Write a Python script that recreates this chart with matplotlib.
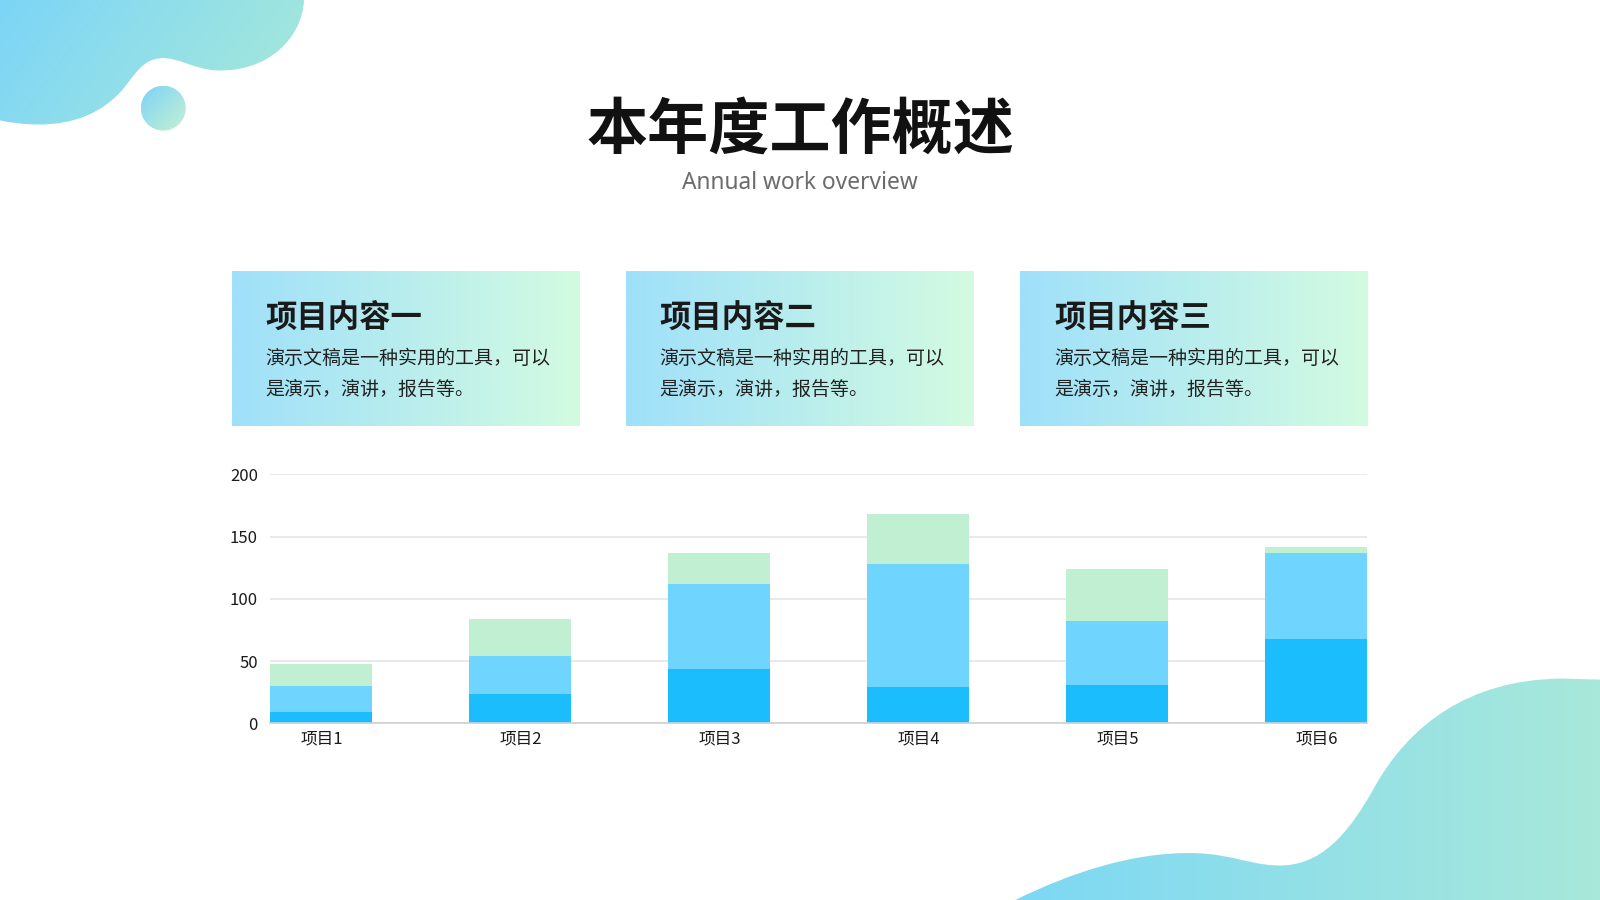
import matplotlib
matplotlib.use("Agg")
import matplotlib.pyplot as plt
import numpy as np
from matplotlib.path import Path
from matplotlib.patches import PathPatch, Rectangle, Circle
from matplotlib.colors import to_rgb

plt.rcParams['font.family'] = ['Noto Sans CJK SC', 'DejaVu Sans']

# ---- data ----
categories = ['项目1', '项目2', '项目3', '项目4', '项目5', '项目6']
series_a = [9, 24, 44, 29, 31, 68]
series_b = [21, 30, 68, 99, 51, 69]
series_c = [18, 30, 25, 40, 42, 5]
y_ticks = [0, 50, 100, 150, 200]

title = '本年度工作概述'
subtitle = 'Annual work overview'
card_titles = ['项目内容一', '项目内容二', '项目内容三']
card_lines = ['演示文稿是一种实用的工具，可以', '是演示，演讲，报告等。']

C_A = '#1bbdfd'
C_B = '#70d5fe'
C_C = '#c0efd1'

W, H = 1568, 882
fig = plt.figure(figsize=(16, 9), dpi=100)
bg = fig.add_axes([0, 0, 1, 1])
bg.set_xlim(0, W)
bg.set_ylim(H, 0)
bg.axis('off')


def gradient(ax, x0, x1, y0, y1, c0, c1, clip, diag=0.0, z=1):
    n = 256
    xs = np.linspace(0, 1, n)
    ys = np.linspace(0, 1, n)
    X, Y = np.meshgrid(xs, ys)
    t = (X + diag * Y) / (1 + diag)
    a = np.array(to_rgb(c0))
    b = np.array(to_rgb(c1))
    img = a[None, None, :] * (1 - t[..., None]) + b[None, None, :] * t[..., None]
    im = ax.imshow(img, extent=(x0, x1, y1, y0), origin='upper',
                   aspect='auto', zorder=z, interpolation='bilinear')
    im.set_clip_path(clip)


# top-left blob
verts = [(0, 0), (298, 0),
         (296, 38), (262, 71), (212, 69),
         (190, 68), (175, 56), (158, 57),
         (140, 58), (133, 72), (120, 88),
         (100, 111), (72, 122), (38, 122),
         (22, 122), (10, 120), (0, 118),
         (0, 0)]
codes = [Path.MOVETO, Path.LINETO] + [Path.CURVE4] * 15 + [Path.CLOSEPOLY]
p1 = PathPatch(Path(verts, codes), facecolor='none', edgecolor='none', transform=bg.transData)
bg.add_patch(p1)
gradient(bg, 0, 300, 0, 125, '#7cd5f7', '#a9ead8', p1, diag=0.3)

# small circle
circ = Circle((160, 106), 22, facecolor='none', edgecolor='none', transform=bg.transData)
bg.add_patch(circ)
gradient(bg, 138, 182, 84, 128, '#7cd3f8', '#c6f1d2', circ, diag=1.0)

# bottom-right blob
verts2 = [(995, 882),
          (1050, 855), (1110, 835), (1170, 836),
          (1210, 837), (1230, 850), (1260, 848),
          (1300, 845), (1325, 810), (1345, 775),
          (1380, 710), (1440, 666), (1530, 665),
          (1568, 666), (1568, 882), (995, 882)]
codes2 = [Path.MOVETO] + [Path.CURVE4] * 12 + [Path.LINETO, Path.LINETO, Path.CLOSEPOLY]
p2 = PathPatch(Path(verts2, codes2), facecolor='none', edgecolor='none', transform=bg.transData)
bg.add_patch(p2)
gradient(bg, 995, 1568, 660, 882, '#7dd8f4', '#a8e8da', p2, diag=0.0)

# title
bg.text(784, 128, title, ha='center', va='center', fontsize=44, fontweight='black',
        color='#111111', family=['Noto Sans CJK SC', 'DejaVu Sans'])
bg.text(784, 179, subtitle, ha='center', va='center', fontsize=16.4, color='#6b6b6b',
        family=['Noto Sans', 'DejaVu Sans'], fontweight='light')

# cards
card_x = [227, 613, 1000]
for i, cx in enumerate(card_x):
    r = Rectangle((cx, 266), 341, 151, facecolor='none', edgecolor='none', transform=bg.transData)
    bg.add_patch(r)
    gradient(bg, cx, cx + 341, 266, 417, '#9fe0fa', '#d3fbe1', r, diag=0.0)
    bg.text(cx + 33, 311, card_titles[i], ha='left', va='center', fontsize=22.6,
            fontweight='bold', color='#1a1a1a', zorder=5)
    bg.text(cx + 33, 351, card_lines[0], ha='left', va='center', fontsize=13.7,
            color='#222222', zorder=5)
    bg.text(cx + 33, 382, card_lines[1], ha='left', va='center', fontsize=13.7,
            color='#222222', zorder=5)

# chart
ax = fig.add_axes([265 / W, 1 - 709 / H, (1340 - 265) / W, (709 - 465) / H])
ax.patch.set_alpha(0)
x = np.arange(len(categories))
bw = 100 / 195
a = np.array(series_a)
b = np.array(series_b)
c = np.array(series_c)
ax.bar(x, a, width=bw, color=C_A, zorder=3)
ax.bar(x, b, width=bw, bottom=a, color=C_B, zorder=3)
ax.bar(x, c, width=bw, bottom=a + b, color=C_C, zorder=3)
ax.set_xlim(-bw / 2, len(categories) - 1 + bw / 2)
ax.set_ylim(0, 200)
ax.set_yticks(y_ticks)
ax.set_xticks(x)
ax.set_xticklabels(categories)
ax.grid(axis='y', color='#e3e3e3', linewidth=1.1, zorder=0)
ax.set_axisbelow(True)
for s in ['top', 'right', 'left']:
    ax.spines[s].set_visible(False)
ax.spines['bottom'].set_color('#d0d0d0')
ax.spines['bottom'].set_linewidth(1.2)
ax.spines['bottom'].set_zorder(4)
ax.tick_params(axis='both', length=0, labelsize=12, labelcolor='#1a1a1a')
ax.tick_params(axis='y', pad=9)
ax.tick_params(axis='x', pad=5)

fig.savefig('out.png', dpi=100)
